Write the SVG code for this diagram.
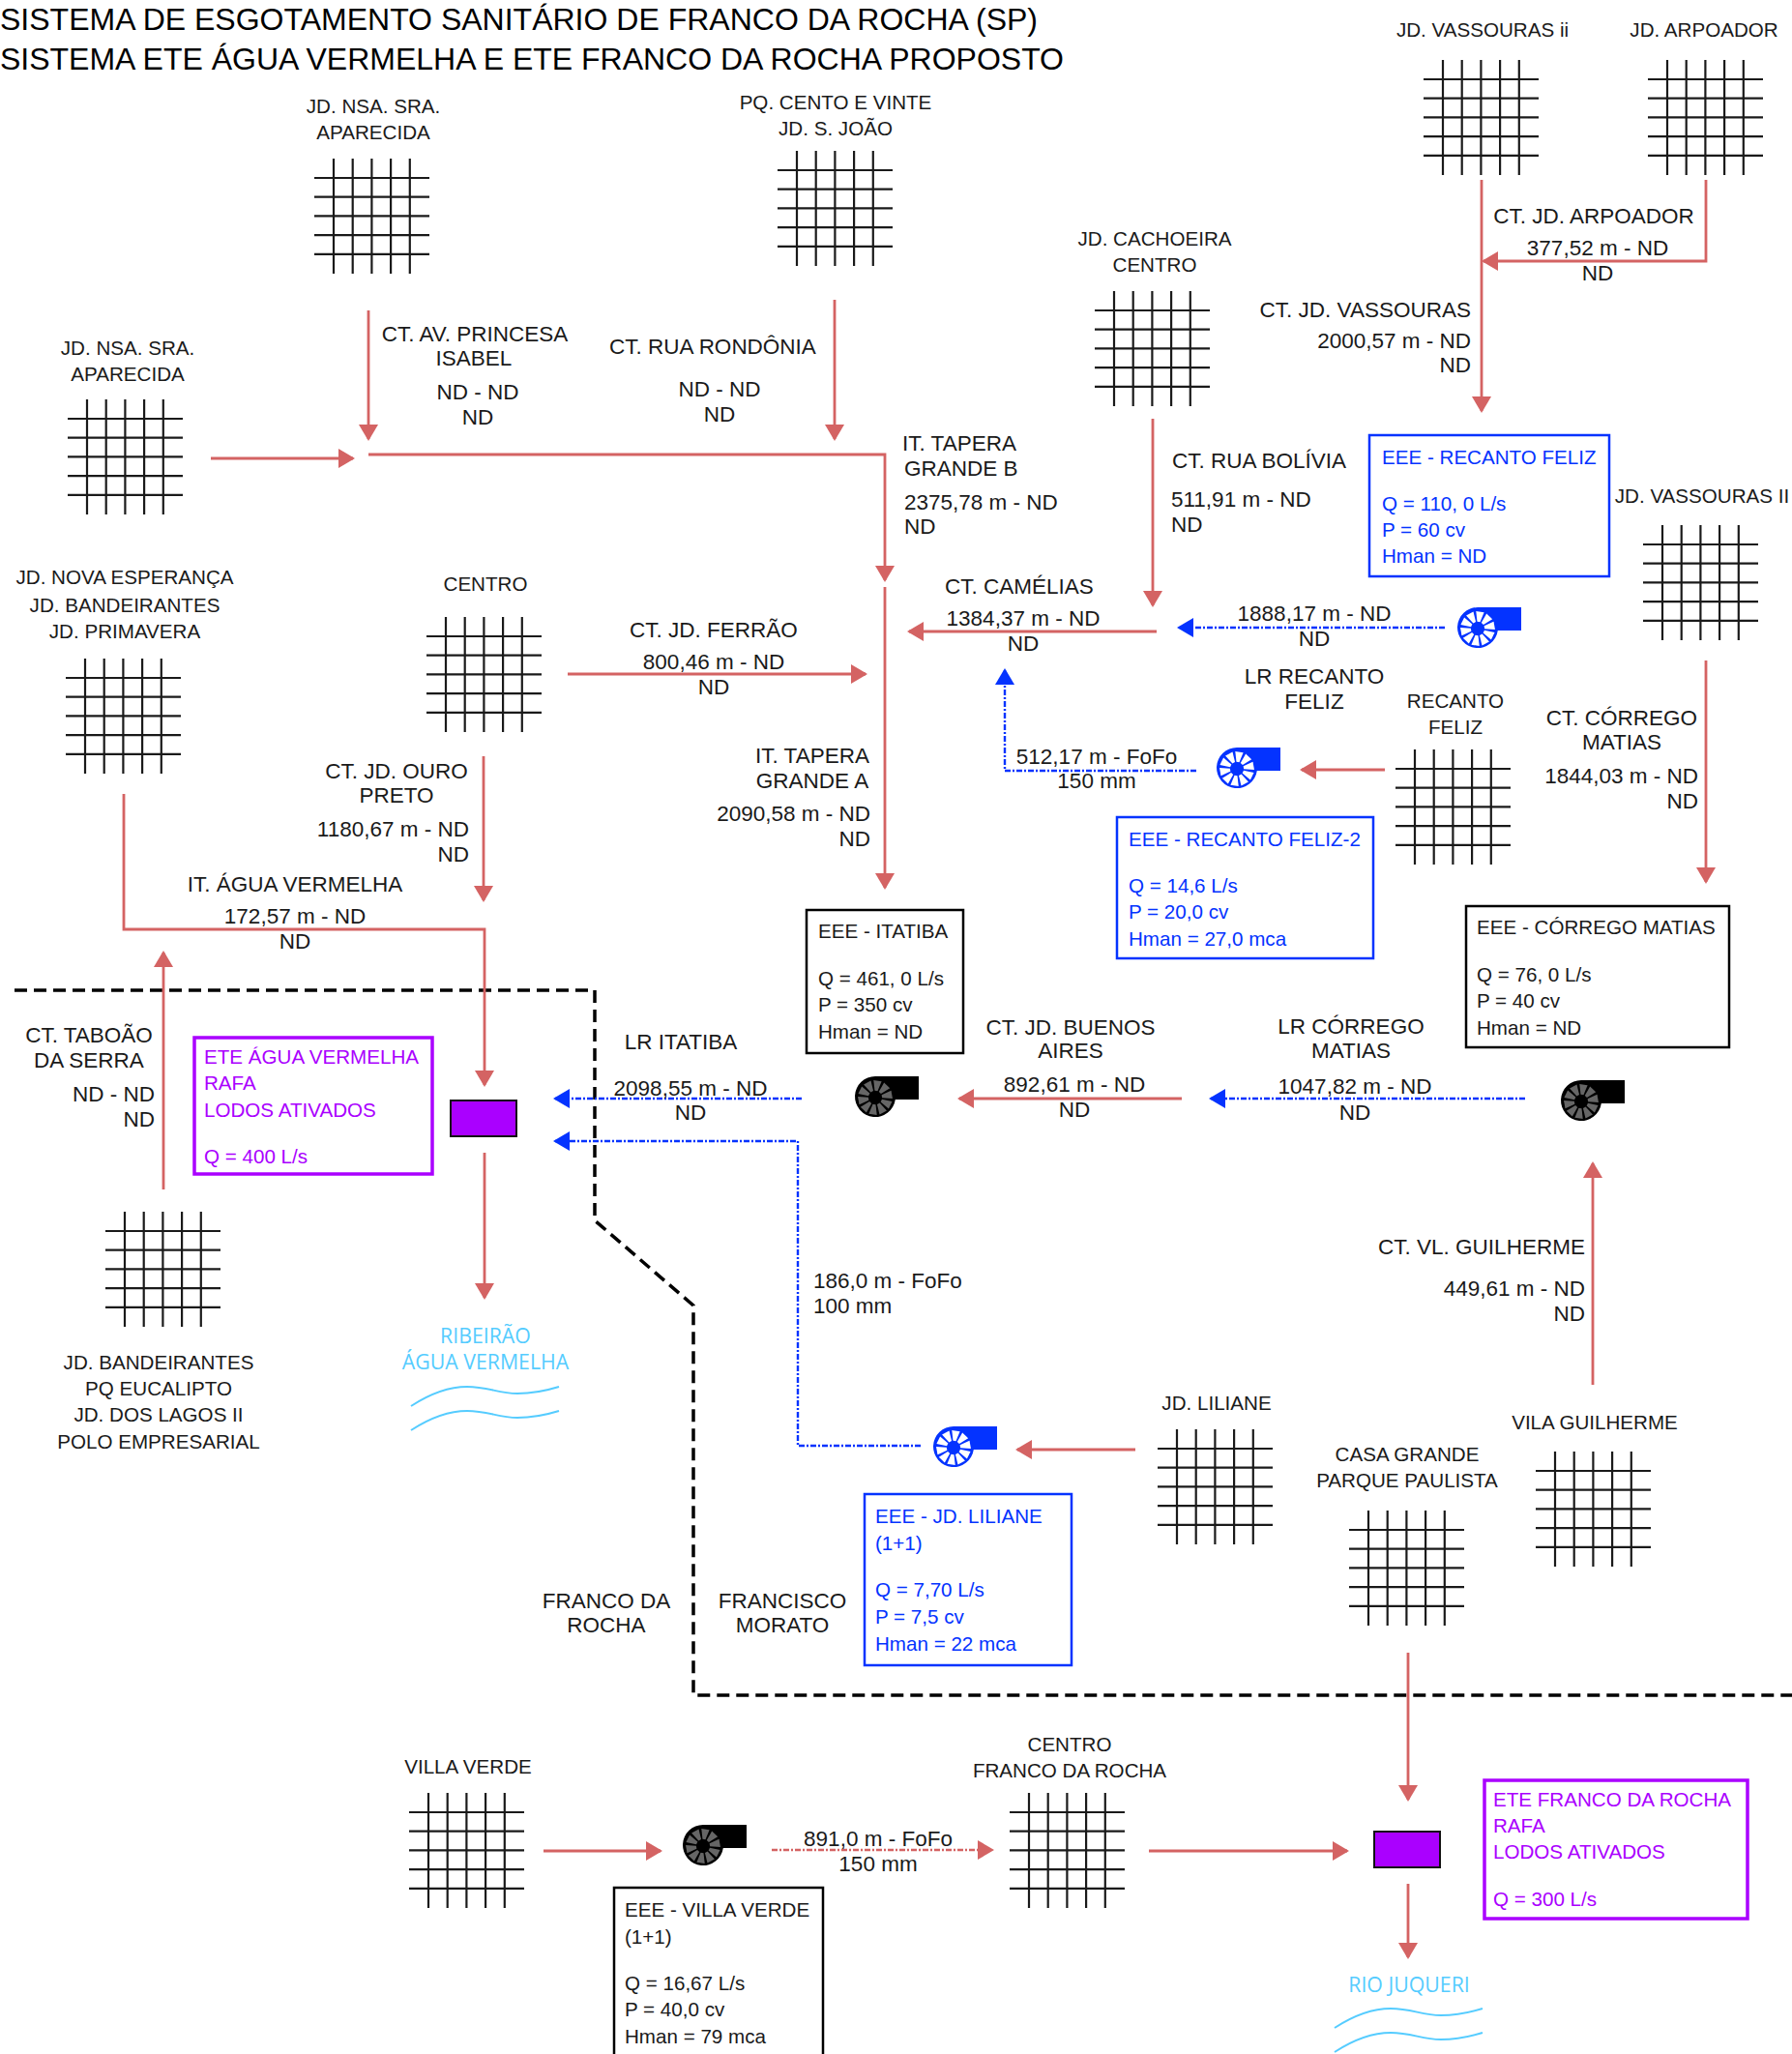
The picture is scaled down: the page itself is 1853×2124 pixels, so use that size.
<svg xmlns="http://www.w3.org/2000/svg" xmlns:xlink="http://www.w3.org/1999/xlink" width="1853" height="2124" viewBox="0 0 1853 2124">
<style>
text{font-family:"Liberation Sans",Arial,sans-serif;font-size:22.5px;fill:#1a1a1a}
.m{text-anchor:middle}.e{text-anchor:end}
g[id^="node-"] text{font-size:20.6px}
.bx{font-size:20.6px;transform:translate(-1px,-1px)}
.tt{font-size:32px;fill:#000}
.bl{fill:#0433ff}.pu{fill:#aa00ff}
.cy{font-family:"Open Sans",sans-serif;fill:#55ccff;text-anchor:middle;font-size:21.3px}
.r{fill:none;stroke:#d46363;stroke-width:2.8;marker-end:url(#ar)}
.rd{fill:none;stroke:#d46363;stroke-width:2.4;stroke-dasharray:6 2 2 2;marker-end:url(#ar)}
.b{fill:none;stroke:#0433ff;stroke-width:2.4;stroke-dasharray:6 2 2 2;marker-end:url(#ab)}
.bound{fill:none;stroke:#000;stroke-width:3.5;stroke-dasharray:13 7}
.g line{stroke:#1a1a1a;stroke-width:2.2}
.box{fill:#fff;stroke:#000;stroke-width:2.5}
.boxb{fill:#fff;stroke:#0433ff;stroke-width:2.5}
.boxp{fill:#fff;stroke:#aa00ff;stroke-width:3.5}
.ete{fill:#aa00ff;stroke:#111;stroke-width:2}
.w{fill:none;stroke:#55ccff;stroke-width:2}
</style>
<defs>
<marker id="ar" markerUnits="userSpaceOnUse" viewBox="0 0 17 20" refX="15" refY="10" markerWidth="17" markerHeight="20" orient="auto"><path d="M0 0L17 10L0 20Z" fill="#d46363"/></marker>
<marker id="ab" markerUnits="userSpaceOnUse" viewBox="0 0 17 20" refX="15" refY="10" markerWidth="17" markerHeight="20" orient="auto"><path d="M0 0L17 10L0 20Z" fill="#0433ff"/></marker>
<g id="grid" class="g">
<line x1="20" y1="0" x2="20" y2="119"/><line x1="39.7" y1="0" x2="39.7" y2="119"/><line x1="59.4" y1="0" x2="59.4" y2="119"/><line x1="79.1" y1="0" x2="79.1" y2="119"/><line x1="98.8" y1="0" x2="98.8" y2="119"/>
<line x1="0" y1="20" x2="119" y2="20"/><line x1="0" y1="39.7" x2="119" y2="39.7"/><line x1="0" y1="59.4" x2="119" y2="59.4"/><line x1="0" y1="79.1" x2="119" y2="79.1"/><line x1="0" y1="98.8" x2="119" y2="98.8"/>
</g>
<path id="pbody" d="M0 -22H45V2H20.8A21 21 0 1 1 0 -22Z"/>
<polygon id="wd" points="-1.5,-7 1.5,-7 4.2,-17.5 -4.2,-17.5"/>
<g id="pblades">
<use href="#wd" transform="rotate(8)"/><use href="#wd" transform="rotate(44)"/><use href="#wd" transform="rotate(80)"/><use href="#wd" transform="rotate(116)"/><use href="#wd" transform="rotate(152)"/><use href="#wd" transform="rotate(188)"/><use href="#wd" transform="rotate(224)"/><use href="#wd" transform="rotate(260)"/><use href="#wd" transform="rotate(296)"/><use href="#wd" transform="rotate(332)"/>
</g>
<g id="wave"><path class="w" d="M425 1454C445 1441 465 1434 483 1434C505 1434 515 1441 535 1441C550 1441 565 1438 578 1434"/><path class="w" d="M425 1479C445 1466 465 1459 483 1459C505 1459 515 1466 535 1466C550 1466 565 1463 578 1459"/></g>
</defs>
<rect width="1853" height="2124" fill="#fff"/>

<g id="title">
<text class="tt" x="0" y="31" textLength="1073" lengthAdjust="spacingAndGlyphs">SISTEMA DE ESGOTAMENTO SANITÁRIO DE FRANCO DA ROCHA (SP)</text>
<text class="tt" x="0" y="72" textLength="1100" lengthAdjust="spacingAndGlyphs">SISTEMA ETE ÁGUA VERMELHA E ETE FRANCO DA ROCHA PROPOSTO</text>
</g>

<g id="connectors">
<path class="bound" d="M15 1024H615V1262L717 1350V1753H1853"/>
<path class="r" d="M381 321V454"/>
<path class="r" d="M863 310V454"/>
<path class="r" d="M218 474H365"/>
<path class="r" d="M381 470H915V600"/>
<path class="r" d="M915 607V918"/>
<path class="r" d="M587 697H895"/>
<path class="r" d="M500 782V931"/>
<path class="r" d="M128 821V961H501V1122"/>
<path class="r" d="M169 1230V985"/>
<path class="r" d="M501 1192V1342"/>
<path class="r" d="M1764 186V270H1534"/>
<path class="r" d="M1532 186V425"/>
<path class="r" d="M1192 433V626"/>
<path class="r" d="M1196 653H940"/>
<path class="r" d="M1764 683V912"/>
<path class="r" d="M1432 796H1346"/>
<path class="r" d="M1222 1136H992"/>
<path class="r" d="M1647 1432V1203"/>
<path class="r" d="M1174 1499H1052"/>
<path class="r" d="M1456 1709V1861"/>
<path class="r" d="M1456 1948V2024"/>
<path class="r" d="M562 1914H683"/>
<path class="r" d="M1188 1914H1393"/>
<path class="rd" d="M798 1913H1026"/>
<path class="b" d="M1494 649H1219"/>
<path class="b" d="M1237 797H1039V693"/>
<path class="b" d="M829 1136H574"/>
<path class="b" d="M952 1495H825V1180H574"/>
<path class="b" d="M1577 1136H1252"/>
</g>

<g id="connector-labels">
<text x="1648" y="231" class="m">CT. JD. ARPOADOR</text><text x="1652" y="264" class="m">377,52 m - ND</text><text x="1652" y="290" class="m">ND</text>
<text x="1521" y="328" class="e">CT. JD. VASSOURAS</text><text x="1521" y="360" class="e">2000,57 m - ND</text><text x="1521" y="385" class="e">ND</text>
<text x="491" y="353" class="m">CT. AV. PRINCESA</text><text x="490" y="378" class="m">ISABEL</text><text x="494" y="413" class="m">ND - ND</text><text x="494" y="439" class="m">ND</text>
<text x="737" y="366" class="m">CT. RUA RONDÔNIA</text><text x="744" y="410" class="m">ND - ND</text><text x="744" y="436" class="m">ND</text>
<text x="933" y="466">IT. TAPERA</text><text x="935" y="492">GRANDE B</text><text x="935" y="527">2375,78 m - ND</text><text x="935" y="552">ND</text>
<text x="1212" y="484">CT. RUA BOLÍVIA</text><text x="1211" y="524">511,91 m - ND</text><text x="1211" y="550">ND</text>
<text x="1054" y="614" class="m">CT. CAMÉLIAS</text><text x="1058" y="647" class="m">1384,37 m - ND</text><text x="1058" y="673" class="m">ND</text>
<text x="1359" y="642" class="m">1888,17 m - ND</text><text x="1359" y="668" class="m">ND</text><text x="1359" y="707" class="m">LR RECANTO</text><text x="1359" y="733" class="m">FELIZ</text>
<text x="738" y="659" class="m">CT. JD. FERRÃO</text><text x="738" y="692" class="m">800,46 m - ND</text><text x="738" y="718" class="m">ND</text>
<text x="1677" y="750" class="m">CT. CÓRREGO</text><text x="1677" y="775" class="m">MATIAS</text><text x="1756" y="810" class="e">1844,03 m - ND</text><text x="1756" y="836" class="e">ND</text>
<text x="1134" y="790" class="m">512,17 m - FoFo</text><text x="1134" y="815" class="m">150 mm</text>
<text x="840" y="789" class="m">IT. TAPERA</text><text x="840" y="815" class="m">GRANDE A</text><text x="900" y="849" class="e">2090,58 m - ND</text><text x="900" y="875" class="e">ND</text>
<text x="410" y="805" class="m">CT. JD. OURO</text><text x="410" y="830" class="m">PRETO</text><text x="485" y="865" class="e">1180,67 m - ND</text><text x="485" y="891" class="e">ND</text>
<text x="305" y="922" class="m">IT. ÁGUA VERMELHA</text><text x="305" y="955" class="m">172,57 m - ND</text><text x="305" y="981" class="m">ND</text>
<text x="1107" y="1070" class="m">CT. JD. BUENOS</text><text x="1107" y="1094" class="m">AIRES</text><text x="1111" y="1129" class="m">892,61 m - ND</text><text x="1111" y="1155" class="m">ND</text>
<text x="1397" y="1069" class="m">LR CÓRREGO</text><text x="1397" y="1094" class="m">MATIAS</text><text x="1401" y="1131" class="m">1047,82 m - ND</text><text x="1401" y="1158" class="m">ND</text>
<text x="704" y="1085" class="m">LR ITATIBA</text><text x="714" y="1133" class="m">2098,55 m - ND</text><text x="714" y="1158" class="m">ND</text>
<text x="92" y="1078" class="m">CT. TABOÃO</text><text x="92" y="1104" class="m">DA SERRA</text><text x="160" y="1139" class="e">ND - ND</text><text x="160" y="1165" class="e">ND</text>
<text x="1532" y="1297" class="m">CT. VL. GUILHERME</text><text x="1639" y="1340" class="e">449,61 m - ND</text><text x="1639" y="1366" class="e">ND</text>
<text x="841" y="1332">186,0 m - FoFo</text><text x="841" y="1358">100 mm</text>
<text x="908" y="1909" class="m">891,0 m - FoFo</text><text x="908" y="1935" class="m">150 mm</text>
<text x="627" y="1663" class="m">FRANCO DA</text><text x="627" y="1688" class="m">ROCHA</text>
<text x="809" y="1663" class="m">FRANCISCO</text><text x="809" y="1688" class="m">MORATO</text>
</g>

<g id="node-nsa-aparecida-1"><use href="#grid" x="325" y="164"/><text x="386" y="117" class="m">JD. NSA. SRA.</text><text x="386" y="144" class="m">APARECIDA</text></g>
<g id="node-cento-vinte"><use href="#grid" x="804" y="156"/><text x="864" y="113" class="m">PQ. CENTO E VINTE</text><text x="864" y="140" class="m">JD. S. JOÃO</text></g>
<g id="node-vassouras-i"><use href="#grid" x="1472" y="62"/><text x="1533" y="38" class="m">JD. VASSOURAS ii</text></g>
<g id="node-arpoador"><use href="#grid" x="1704" y="62"/><text x="1762" y="38" class="m">JD. ARPOADOR</text></g>
<g id="node-cachoeira"><use href="#grid" x="1132" y="301"/><text x="1194" y="254" class="m">JD. CACHOEIRA</text><text x="1194" y="281" class="m">CENTRO</text></g>
<g id="node-nsa-aparecida-2"><use href="#grid" x="70" y="413"/><text x="132" y="367" class="m">JD. NSA. SRA.</text><text x="132" y="394" class="m">APARECIDA</text></g>
<g id="node-vassouras-ii"><use href="#grid" x="1699" y="543"/><text x="1760" y="520" class="m">JD. VASSOURAS II</text></g>
<g id="node-nova-esperanca"><use href="#grid" x="68" y="681"/><text x="129" y="604" class="m">JD. NOVA ESPERANÇA</text><text x="129" y="633" class="m">JD. BANDEIRANTES</text><text x="129" y="660" class="m">JD. PRIMAVERA</text></g>
<g id="node-centro"><use href="#grid" x="441" y="638"/><text x="502" y="611" class="m">CENTRO</text></g>
<g id="node-recanto-feliz"><use href="#grid" x="1443" y="775"/><text x="1505" y="732" class="m">RECANTO</text><text x="1505" y="759" class="m">FELIZ</text></g>
<g id="node-bandeirantes"><use href="#grid" x="109" y="1253"/><text x="164" y="1416" class="m">JD. BANDEIRANTES</text><text x="164" y="1443" class="m">PQ EUCALIPTO</text><text x="164" y="1470" class="m">JD. DOS LAGOS II</text><text x="164" y="1498" class="m">POLO EMPRESARIAL</text></g>
<g id="node-liliane"><use href="#grid" x="1197" y="1478"/><text x="1258" y="1458" class="m">JD. LILIANE</text></g>
<g id="node-vila-guilherme"><use href="#grid" x="1588" y="1501"/><text x="1649" y="1478" class="m">VILA GUILHERME</text></g>
<g id="node-casa-grande"><use href="#grid" x="1395" y="1562"/><text x="1455" y="1511" class="m">CASA GRANDE</text><text x="1455" y="1538" class="m">PARQUE PAULISTA</text></g>
<g id="node-villa-verde"><use href="#grid" x="423" y="1854"/><text x="484" y="1834" class="m">VILLA VERDE</text></g>
<g id="node-centro-franco"><use href="#grid" x="1044" y="1854"/><text x="1106" y="1811" class="m">CENTRO</text><text x="1106" y="1838" class="m">FRANCO DA ROCHA</text></g>

<g id="eee-recanto-feliz"><use href="#pbody" x="1528" y="650" fill="#0433ff"/><use href="#pblades" transform="translate(1528 650)" fill="#fff"/>
<rect class="boxb" x="1416" y="450" width="248" height="146"/>
<text class="bx bl" x="1430" y="481">EEE - RECANTO FELIZ</text><text class="bx bl" x="1430" y="529">Q = 110, 0 L/s</text><text class="bx bl" x="1430" y="556">P = 60 cv</text><text class="bx bl" x="1430" y="583">Hman = ND</text></g>
<g id="eee-recanto-feliz-2"><use href="#pbody" x="1279" y="795" fill="#0433ff"/><use href="#pblades" transform="translate(1279 795)" fill="#fff"/>
<rect class="boxb" x="1155" y="845" width="265" height="146"/>
<text class="bx bl" x="1168" y="876">EEE - RECANTO FELIZ-2</text><text class="bx bl" x="1168" y="924">Q = 14,6 L/s</text><text class="bx bl" x="1168" y="951">P = 20,0 cv</text><text class="bx bl" x="1168" y="979">Hman = 27,0 mca</text></g>
<g id="eee-itatiba"><use href="#pbody" x="905" y="1135" fill="#000"/><use href="#pblades" transform="translate(905 1135)" fill="#666"/>
<rect class="box" x="834" y="941" width="162" height="148"/>
<text class="bx" x="847" y="971">EEE - ITATIBA</text><text class="bx" x="847" y="1020">Q = 461, 0 L/s</text><text class="bx" x="847" y="1047">P = 350 cv</text><text class="bx" x="847" y="1075">Hman = ND</text></g>
<g id="eee-corrego-matias"><use href="#pbody" x="1635" y="1139" fill="#000"/><use href="#pblades" transform="translate(1635 1139)" fill="#666"/>
<rect class="box" x="1516" y="937" width="272" height="146"/>
<text class="bx" x="1528" y="967">EEE - CÓRREGO MATIAS</text><text class="bx" x="1528" y="1016">Q = 76, 0 L/s</text><text class="bx" x="1528" y="1043">P = 40 cv</text><text class="bx" x="1528" y="1071">Hman = ND</text></g>
<g id="eee-liliane"><use href="#pbody" x="986" y="1497" fill="#0433ff"/><use href="#pblades" transform="translate(986 1497)" fill="#fff"/>
<rect class="boxb" x="894" y="1545" width="214" height="177"/>
<text class="bx bl" x="906" y="1576">EEE - JD. LILIANE</text><text class="bx bl" x="906" y="1604">(1+1)</text><text class="bx bl" x="906" y="1652">Q = 7,70 L/s</text><text class="bx bl" x="906" y="1680">P = 7,5 cv</text><text class="bx bl" x="906" y="1708">Hman = 22 mca</text></g>
<g id="eee-villa-verde"><use href="#pbody" x="727" y="1909" fill="#000"/><use href="#pblades" transform="translate(727 1909)" fill="#666"/>
<rect class="box" x="635" y="1952" width="216" height="180"/>
<text class="bx" x="647" y="1983">EEE - VILLA VERDE</text><text class="bx" x="647" y="2011">(1+1)</text><text class="bx" x="647" y="2059">Q = 16,67 L/s</text><text class="bx" x="647" y="2086">P = 40,0 cv</text><text class="bx" x="647" y="2114">Hman = 79 mca</text></g>

<g id="ete-agua-vermelha"><rect class="ete" x="466" y="1138" width="68" height="37"/>
<rect class="boxp" x="201" y="1073" width="246" height="141"/>
<text class="bx pu" x="212" y="1101">ETE ÁGUA VERMELHA</text><text class="bx pu" x="212" y="1128">RAFA</text><text class="bx pu" x="212" y="1156">LODOS ATIVADOS</text><text class="bx pu" x="212" y="1204">Q = 400 L/s</text></g>
<g id="ete-franco-rocha"><rect class="ete" x="1421" y="1894" width="68" height="37"/>
<rect class="boxp" x="1535" y="1841" width="272" height="143"/>
<text class="bx pu" x="1545" y="1869">ETE FRANCO DA ROCHA</text><text class="bx pu" x="1545" y="1896">RAFA</text><text class="bx pu" x="1545" y="1923">LODOS ATIVADOS</text><text class="bx pu" x="1545" y="1972">Q = 300 L/s</text></g>

<g id="ribeirao"><text class="cy" x="502" y="1389">RIBEIRÃO</text><text class="cy" x="502" y="1416">ÁGUA VERMELHA</text><use href="#wave"/></g>
<g id="rio-juqueri"><text class="cy" x="1457" y="2060">RIO JUQUERI</text><use href="#wave" x="955" y="643"/></g>
</svg>
